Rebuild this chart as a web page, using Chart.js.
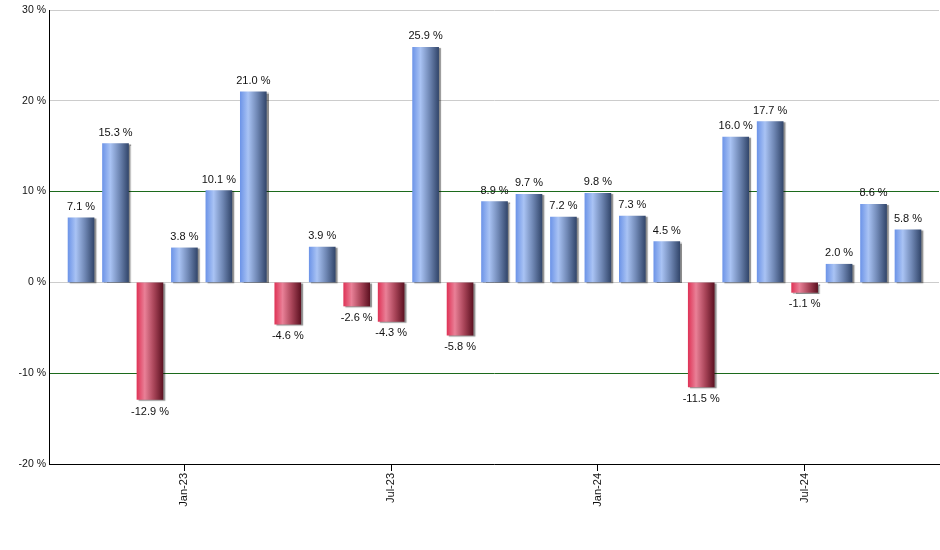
<!DOCTYPE html>
<html><head><meta charset="utf-8">
<script src="https://cdn.jsdelivr.net/npm/chart.js@4"></script>
<style>html,body{margin:0;padding:0;background:#fff}#wrap{width:940px;height:550px;position:relative}</style>
</head><body><div id="wrap"><canvas id="c"></canvas></div>
<script>
const months = ['Oct-22','Nov-22','Dec-22','Jan-23','Feb-23','Mar-23','Apr-23','May-23','Jun-23','Jul-23','Aug-23','Sep-23','Oct-23','Nov-23','Dec-23','Jan-24','Feb-24','Mar-24','Apr-24','May-24','Jun-24','Jul-24','Aug-24','Sep-24','Oct-24'];
const returns = [7.1, 15.3, -12.9, 3.8, 10.1, 21.0, -4.6, 3.9, -2.6, -4.3, 25.9, -5.8, 8.9, 9.7, 7.2, 9.8, 7.3, 4.5, -11.5, 16.0, 17.7, -1.1, 2.0, 8.6, 5.8];
const labelledMonths = ['Jan-23','Jul-23','Jan-24','Jul-24'];
const yTicks = [-20, -10, 0, 10, 20, 30];
const strongGridValues = [10, -10];

const BAR_W = 26;
function barFill(ctx) {
  const chart = ctx.chart;
  const xs = chart.scales && chart.scales.x;
  const v = returns[ctx.dataIndex];
  const solid = (v !== undefined && v < 0) ? '#b8405a' : '#7fa0e0';
  if (!xs || ctx.dataIndex === undefined) return solid;
  const cx = xs.getPixelForValue(ctx.dataIndex);
  if (!isFinite(cx)) return solid;
  const g = chart.ctx.createLinearGradient(cx - BAR_W/2, 0, cx + BAR_W/2, 0);
  if (v >= 0) {
    g.addColorStop(0, '#6e95e8');
    g.addColorStop(0.3, '#a9c3f4');
    g.addColorStop(0.65, '#6f87b4');
    g.addColorStop(1, '#33476c');
  } else {
    g.addColorStop(0, '#df3558');
    g.addColorStop(0.3, '#e98097');
    g.addColorStop(0.65, '#a94559');
    g.addColorStop(1, '#5e1222');
  }
  return g;
}

const labelPlugin = {
  id: 'valueLabels',
  beforeDatasetsDraw(chart) {
    const c = chart.ctx;
    c.save();
    c.shadowColor = 'rgba(0,0,0,0.45)';
    c.shadowOffsetX = 2;
    c.shadowOffsetY = 1;
    c.shadowBlur = 1;
  },
  afterDatasetsDraw(chart) {
    const c = chart.ctx;
    c.restore();
    const meta = chart.getDatasetMeta(0);
    c.save();
    c.font = '11px "Liberation Sans", Arial, sans-serif';
    c.fillStyle = '#111';
    c.textAlign = 'center';
    c.textBaseline = 'middle';
    meta.data.forEach((el, i) => {
      const v = returns[i];
      const txt = v.toFixed(1) + ' %';
      const y = v >= 0 ? el.y - 11 : el.y + 12;
      c.fillText(txt, el.x, y);
    });
    c.restore();
  }
};

new Chart(document.getElementById('c'), {
  type: 'bar',
  data: {
    datasets: [{
      data: returns.map((v, i) => ({x: i, y: v})),
      backgroundColor: barFill,
      borderWidth: 0,
      barThickness: BAR_W
    }]
  },
  options: {
    responsive: true,
    maintainAspectRatio: false,
    animation: false,
    devicePixelRatio: 1,
    layout: {padding: {top: 10, right: 1, left: 0, bottom: 0}},
    plugins: {legend: {display: false}, tooltip: {enabled: false}},
    scales: {
      x: {
        type: 'linear',
        offset: false,
        bounds: 'data',
        min: -0.93,
        max: 24.9,
        afterBuildTicks(scale) {
          scale.ticks = labelledMonths.map(m => ({value: months.indexOf(m)}));
        },
        afterFit(scale) { scale.height = 86; },
        ticks: {
          autoSkip: false,
          minRotation: 90,
          maxRotation: 90,
          padding: 2,
          color: '#111',
          font: {family: '"Liberation Sans", Arial, sans-serif', size: 11},
          callback: (v) => months[v]
        },
        grid: {offset: false, drawOnChartArea: false, drawTicks: true, tickLength: 7, color: '#000'},
        border: {display: true, color: '#000', width: 1}
      },
      y: {
        min: -20,
        max: 30,
        afterBuildTicks(scale) {
          scale.ticks = yTicks.map(v => ({value: v}));
        },
        afterFit(scale) { scale.width = 49; },
        ticks: {
          padding: 3,
          color: '#111',
          font: {family: '"Liberation Sans", Arial, sans-serif', size: 10.5},
          callback: (v) => v + ' %'
        },
        grid: {
          drawTicks: false,
          color: (ctx) => (ctx.tick && strongGridValues.includes(ctx.tick.value)) ? '#1c6a1c' : '#cccccc',
          lineWidth: 1
        },
        border: {display: true, color: '#000', width: 1}
      }
    }
  },
  plugins: [labelPlugin]
});
</script>
</body></html>
